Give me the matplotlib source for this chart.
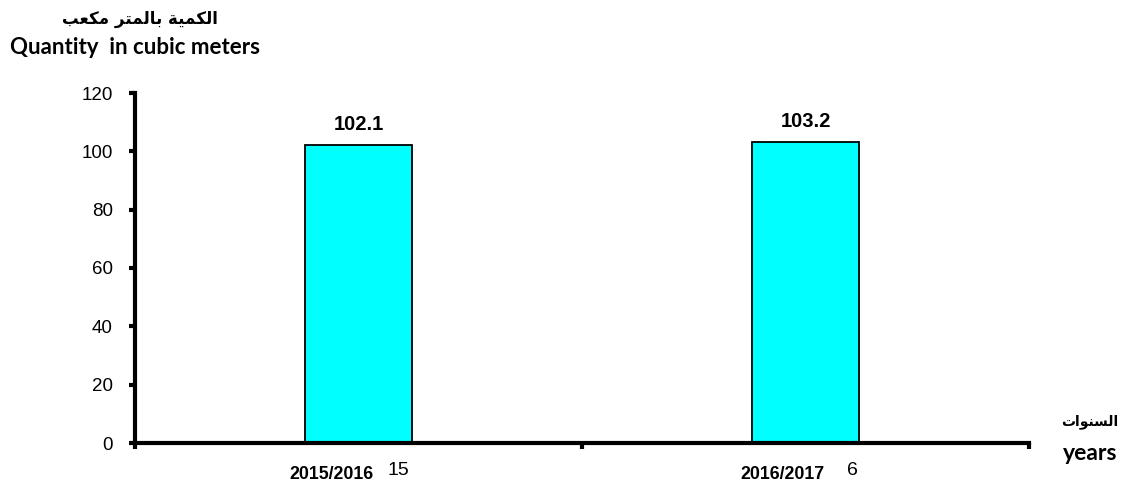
import matplotlib
matplotlib.use("Agg")
import matplotlib.pyplot as plt

# ---- data ----
categories = ["2015/2016", "2016/2017"]
extra_labels = ["15", "6"]
values = [102.1, 103.2]
y_ticks = [0, 20, 40, 60, 80, 100, 120]

# Arabic strings in presentation forms, visual (left-to-right) order
# "الكمية بالمتر مكعب"
ar_y_title = "\uFE8D\uFEDF\uFEDC\uFEE4\uFEF4\uFE94 \uFE91\uFE8E\uFEDF\uFEE4\uFE98\uFEAE \uFEE3\uFEDC\uFECC\uFE90"[::-1]
# "السنوات"
ar_x_title = "\uFE8D\uFEDF\uFEB4\uFEE8\uFEEE\uFE8D\uFE95"[::-1]
en_y_title = "Quantity  in cubic meters"
en_x_title = "years"

W, H = 1132, 488
fig = plt.figure(figsize=(W / 100, H / 100), dpi=100)
ax = fig.add_axes([135 / W, (H - 443) / H, 894 / W, 350 / H])

x_pos = [0.5 + i for i in range(len(categories))]
ax.bar(x_pos, values, width=0.24, color="#00FFFF", edgecolor="black", linewidth=1.3, zorder=2)

ax.set_xlim(0, len(categories))
ax.set_ylim(0, 120)
ax.set_yticks(y_ticks)
ax.set_xticks(range(len(categories) + 1))
ax.set_xticklabels([])

for s in ["top", "right"]:
    ax.spines[s].set_visible(False)
for s in ["left", "bottom"]:
    ax.spines[s].set_linewidth(3)
    ax.spines[s].set_capstyle("projecting")

ax.tick_params(axis="y", direction="out", length=4, width=3, pad=12, labelsize=13.5)
ax.tick_params(axis="x", direction="out", length=4, width=3)
for lab in ax.get_yticklabels():
    lab.set_fontfamily("Liberation Sans")

# value labels
for x, v in zip(x_pos, values):
    ax.annotate(f"{v:.1f}", xy=(x, v), xytext=(0, 15), textcoords="offset points",
                ha="center", va="center", fontsize=14.5, fontweight="bold",
                family="Liberation Sans")

# category labels (bold) and trailing numbers
cat_offsets = [-19.8, -16.9]
extra_offsets = [28.4, 33.5]
for x, c, e, co, eo in zip(x_pos, categories, extra_labels, cat_offsets, extra_offsets):
    ax.annotate(c, xy=(x, 0), xycoords=("data", "axes fraction"), xytext=(co, -23),
                textcoords="offset points", ha="center", va="center",
                fontsize=12.8, fontweight="bold", family="Liberation Sans")
    ax.annotate(e, xy=(x, 0), xycoords=("data", "axes fraction"), xytext=(eo, -19.5),
                textcoords="offset points", ha="center", va="center",
                fontsize=14, family="Liberation Sans")

# axis titles
fig.text(140 / W, 1 - 19 / H, ar_y_title, ha="center", va="center",
         fontsize=12, fontweight="bold", family=["DejaVu Sans"])
fig.text(135 / W, 1 - 48 / H, en_y_title, ha="center", va="center",
         fontsize=16, fontweight="bold", family=["Lato", "DejaVu Sans"])
fig.text(1090 / W, 1 - 422 / H, ar_x_title, ha="center", va="center",
         fontsize=10, fontweight="bold", family=["DejaVu Sans"])
fig.text(1090 / W, 1 - 453 / H, en_x_title, ha="center", va="center",
         fontsize=16.5, fontweight="bold", family=["Lato", "DejaVu Sans"])

fig.savefig("out.png", dpi=100)
